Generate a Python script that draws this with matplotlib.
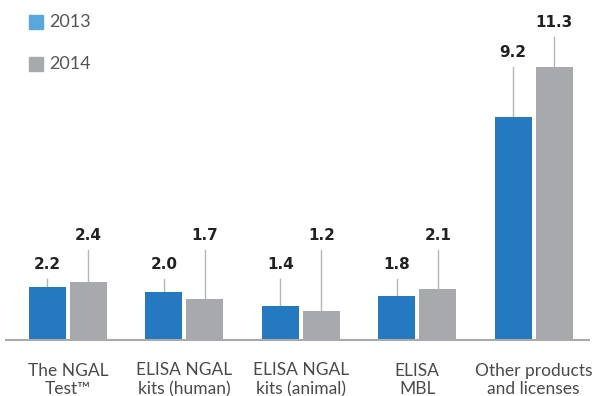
import matplotlib.pyplot as plt
import numpy as np

categories = ["The NGAL\nTest\u2122", "ELISA NGAL\nkits (human)", "ELISA NGAL\nkits (animal)",
              "ELISA\nMBL", "Other products\nand licenses"]
values_2013 = [2.2, 2.0, 1.4, 1.8, 9.2]
values_2014 = [2.4, 1.7, 1.2, 2.1, 11.3]
series_names = ["2013", "2014"]

# label baselines (data units) for each group, 2013 / 2014
label_y_2013 = [2.93, 2.93, 2.93, 2.93, 11.69]
label_y_2014 = [4.13, 4.13, 4.13, 4.13, 12.93]

bar_blue = "#2479c1"
legend_blue = "#5aa7de"
bar_gray = "#a7a9ac"
line_gray = "#b5b5b5"
text_dark = "#222222"
text_light = "#4a4a4a"

fig = plt.figure(figsize=(5.93, 3.96), dpi=100)
ax = fig.add_axes([0, 0, 1, 1])
ax.set_xlim(-0.584, 4.51)
ax.set_ylim(-2.314, 14.05)
ax.axis("off")

x = np.arange(len(categories))
width = 0.318
off = 0.176
ax.bar(x - off, values_2013, width, color=bar_blue, zorder=2)
ax.bar(x + off, values_2014, width, color=bar_gray, zorder=2)

# baseline
ax.plot([0.0084, 0.995], [0, 0], color="#aaaaaa", lw=1.5,
        transform=ax.get_yaxis_transform(), zorder=3, solid_capstyle="butt")

gap = 10 / 24.2
for xs, vals, labs in [(x - off, values_2013, label_y_2013), (x + off, values_2014, label_y_2014)]:
    for xi, v, ly in zip(xs, vals, labs):
        ax.plot([xi, xi], [v, ly - gap], color=line_gray, lw=1, zorder=1)
        ax.text(xi, ly, f"{v:.1f}", ha="center", va="baseline", fontsize=11,
                fontweight="bold", color=text_dark, family="DejaVu Sans")

for xi, cat in zip(x, categories):
    ax.annotate(cat, (xi, 0), xytext=(0, -40), textcoords="offset pixels",
                ha="center", va="center", fontsize=12.5, color=text_light,
                family="Lato", linespacing=1.22)

# legend
for i, (name, col) in enumerate(zip(series_names, [legend_blue, bar_gray])):
    yc = 1 - (22 + 42 * i) / 396
    fig.patches.append(plt.Rectangle((29 / 593, yc - 7 / 396), 14 / 593, 14 / 396,
                                     color=col, transform=fig.transFigure, figure=fig))
    fig.text(49 / 593, yc, name, ha="left", va="center", fontsize=13,
             color="#555555", family="Lato")

fig.savefig("out.png", dpi=100)
